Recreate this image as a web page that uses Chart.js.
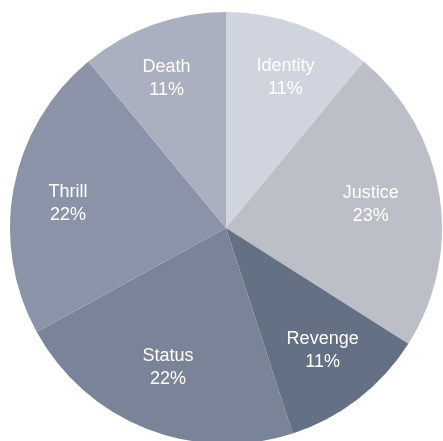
<!DOCTYPE html>
<html>
<head>
<meta charset="utf-8">
<script src="https://cdn.jsdelivr.net/npm/chart.js@4"></script>
<style>
  html, body { margin: 0; padding: 0; background: #ffffff; overflow: hidden; }
  #wrap { position: absolute; left: 0; top: 0; width: 443px; height: 456px; }
</style>
</head>
<body>
<div id="wrap"><canvas id="pie" width="443" height="456"></canvas></div>
<script>
// Motive categories, clockwise from 12 o'clock
const categories = ['Identity', 'Justice', 'Revenge', 'Status', 'Thrill', 'Death'];
// Share of each motive, in percent
const shares = [11, 23, 11, 22, 22, 11];
// Slice fills
const sliceColors = ['#d0d4de', '#bcbfc8', '#647083', '#7a8499', '#8a93a8', '#aab0c0'];

// Writes "name" over "value%" inside every slice
const sliceLabels = {
  id: 'sliceLabels',
  afterDatasetsDraw(chart, args, opts) {
    const ctx = chart.ctx;
    const meta = chart.getDatasetMeta(0);
    ctx.save();
    ctx.fillStyle = opts.color;
    ctx.font = opts.font;
    ctx.textAlign = 'center';
    ctx.textBaseline = 'middle';
    meta.data.forEach((arc, i) => {
      const p = arc.getProps(['x', 'y', 'startAngle', 'endAngle', 'outerRadius'], true);
      const mid = (p.startAngle + p.endAngle) / 2;
      const r = p.outerRadius * opts.radius;
      const nudge = opts.nudges[i] || [0, 0];
      const cx = p.x + Math.cos(mid) * r + nudge[0];
      const cy = p.y + Math.sin(mid) * r + nudge[1];
      ctx.fillText(chart.data.labels[i], cx, cy - opts.lineGap / 2);
      ctx.fillText(chart.data.datasets[0].data[i] + '%', cx, cy + opts.lineGap / 2);
    });
    ctx.restore();
  }
};

new Chart(document.getElementById('pie'), {
  type: 'pie',
  data: {
    labels: categories,
    datasets: [{
      data: shares,
      backgroundColor: sliceColors,
      borderWidth: 0
    }]
  },
  options: {
    responsive: false,
    animation: false,
    devicePixelRatio: 1,
    layout: { padding: { top: 12, bottom: 12, left: 10, right: 1 } },
    plugins: {
      legend: { display: false },
      tooltip: { enabled: false },
      sliceLabels: {
        color: '#ffffff',
        font: '18px "Liberation Sans", Arial, sans-serif',
        radius: 0.73,
        lineGap: 23,
        // small per-slice shifts so each label sits comfortably in its wedge
        nudges: [[6, -2], [-11, 1], [0, -2], [0, -7], [-3, 5], [-6, -1]]
      }
    }
  },
  plugins: [sliceLabels]
});
</script>
</body>
</html>
